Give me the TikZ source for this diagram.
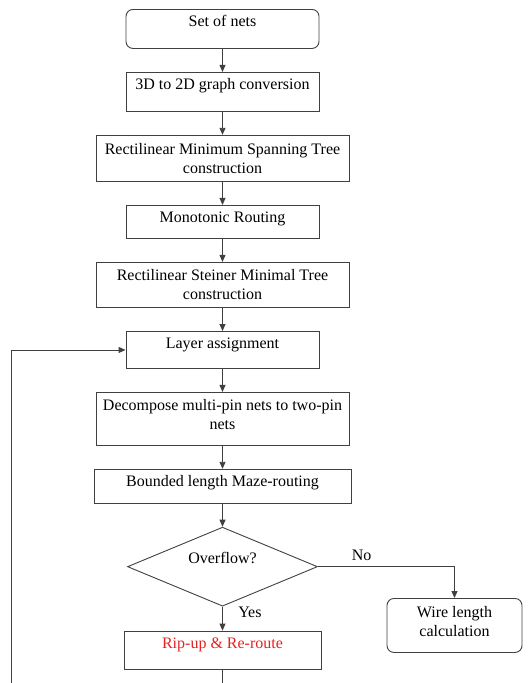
\documentclass[tikz,border=0pt]{standalone}
\usepackage{fontspec}
\setmainfont{Liberation Serif}
\usetikzlibrary{shapes.geometric, positioning, arrows.meta}
\definecolor{linegray}{RGB}{64,64,64}
\definecolor{ripred}{RGB}{228,32,32}

\begin{document}
\begin{tikzpicture}[node distance={23pt}, line width=0.9pt,
                    >={Triangle[length=7pt, width=6pt]},
                    every node/.style = {font=\fontsize{16}{19}\selectfont},
                    proc/.style = {draw=linegray, rectangle, inner xsep=4pt,
                        inner ysep=6.5pt, text height=11pt, text depth=14pt,
                        minimum width=193pt},
                    wide/.style = {draw=linegray, rectangle, align=center,
                        inner ysep=8pt, minimum width=253pt},
                    term/.style = {proc, rounded corners=7pt},
                    check/.style = {draw=linegray, diamond, aspect=2.4,
                        inner sep=0pt, minimum width=190pt, minimum height=79pt,
                        text height=11pt, text depth=18pt},
                    flow/.style = {->, draw=linegray}]
        \useasboundingbox (0,0) rectangle (532pt,-683pt);
        \clip (0,0) rectangle (532pt,-683pt);

        \node[term, anchor=north, text depth=15pt] (nets) at (222.5pt,-9pt) {Set of nets};

        \node[proc, text depth=15pt] (conv) [below=of nets] {3D to 2D graph conversion};

        \node[wide] (mst) [below=of conv] {Rectilinear Minimum Spanning Tree\\construction};

        \node[proc, text depth=9pt] (mono) [below=of mst] {Monotonic Routing};

        \node[wide, inner ysep=7.5pt] (smt) [below=of mono] {Rectilinear Steiner Minimal Tree\\construction};

        \node[proc, text depth=13pt] (layer) [below=of smt] {Layer assignment};

        \node[wide, inner ysep=7pt, text height=30pt, text depth=9pt] (dec) [below=of layer] {Decompose multi-pin nets to two-pin\\nets};

        \node[proc, text depth=10pt, minimum width=257pt] (maze) [below=of dec] {Bounded length Maze-routing};

        \node[check] (ovf) [below=of maze] {Overflow?};

        \node[proc, minimum width=197pt, text=ripred] (rip) [below=24pt of ovf] {Rip-up \& Re-route};

        \node[draw=linegray, rounded corners=7pt, align=center, inner ysep=8pt,
              text height=30pt, text depth=8pt,
              minimum width=135pt, anchor=north] (wire) at (454.5pt,-598pt) {Wire length\\calculation};

        \coordinate (back) at (11pt,-700pt);

        \draw[flow] (nets) -- (conv);
        \draw[flow] (conv) -- (mst);
        \draw[flow] (mst) -- (mono);
        \draw[flow] (mono) -- (smt);
        \draw[flow] (smt) -- (layer);
        \draw[flow] (layer) -- (dec);
        \draw[flow] (dec) -- (maze);
        \draw[flow] (maze) -- (ovf);
        \draw[flow] (ovf) -- (rip) node[pos=0.25, right=12pt] {Yes};
        \draw[flow] (ovf.east) -| (wire.north) node[pos=0.16, above=2pt] {No};
        \draw[flow] (rip.south) |- (back) |- (layer.west);
    \end{tikzpicture}
\end{document}
